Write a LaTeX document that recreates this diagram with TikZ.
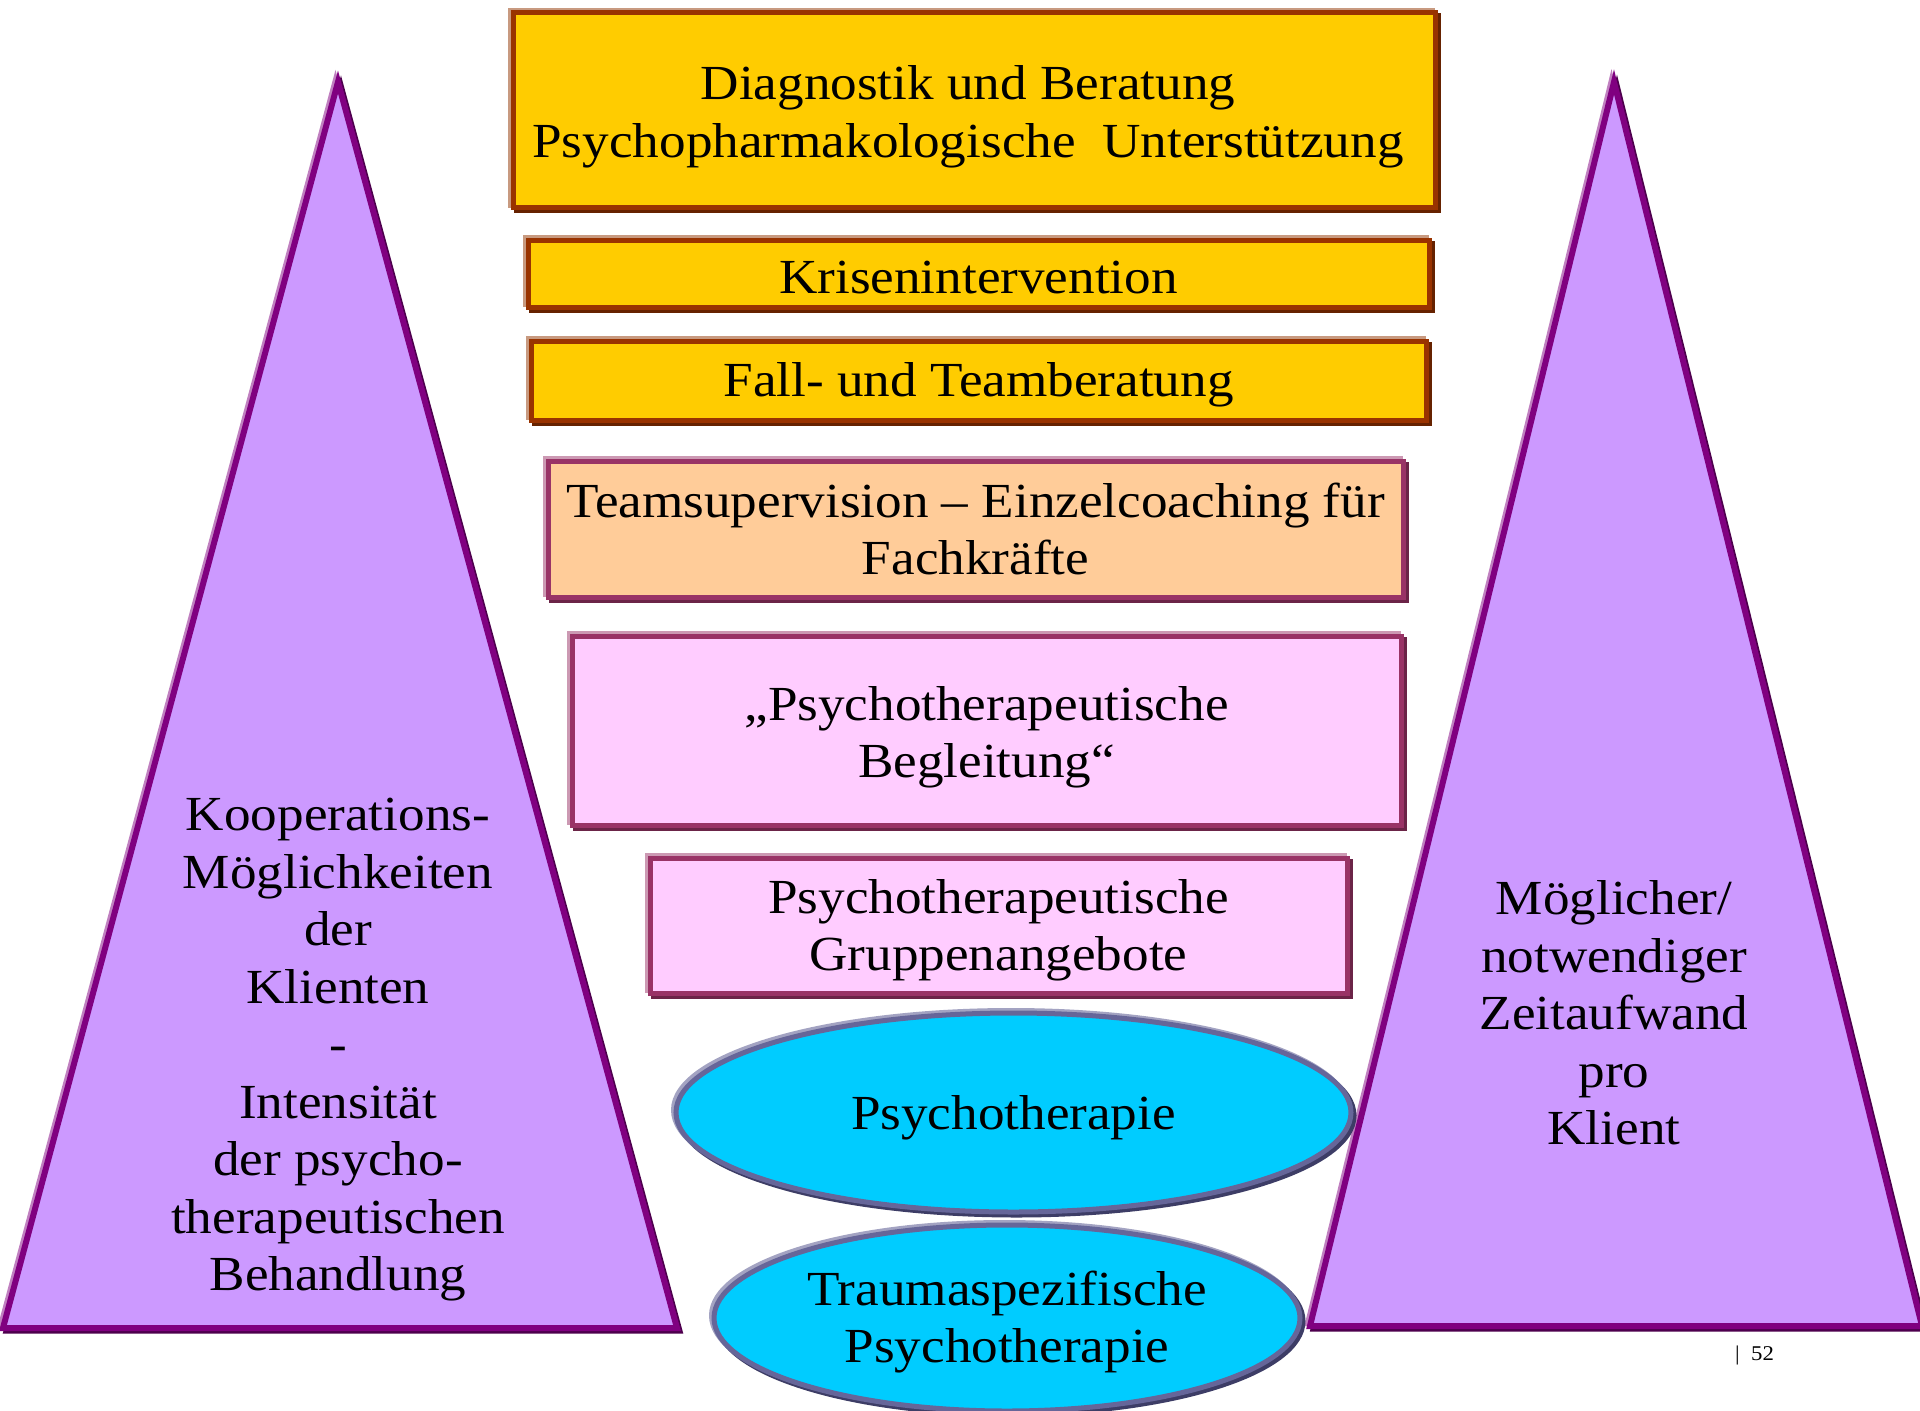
\documentclass[tikz,border=0pt]{standalone}
\usepackage{fontspec}
\setmainfont[FakeStretch=1.085]{Liberation Serif}
\usetikzlibrary{shadows,shapes.geometric}

\definecolor{goldfill}{HTML}{FFCC00}
\definecolor{goldline}{HTML}{993300}
\definecolor{golddark}{HTML}{662200}
\definecolor{goldlight}{HTML}{C89A80}
\definecolor{peachfill}{HTML}{FFCC99}
\definecolor{pinkfill}{HTML}{FFCCFF}
\definecolor{plumline}{HTML}{993366}
\definecolor{plumdark}{HTML}{6B2447}
\definecolor{plumlight}{HTML}{CC99B3}
\definecolor{cyanfill}{HTML}{00CCFF}
\definecolor{slateline}{HTML}{666699}
\definecolor{slatedark}{HTML}{3D3D66}
\definecolor{slatelight}{HTML}{A3A3C2}
\definecolor{lilacfill}{HTML}{CC99FF}
\definecolor{purpleline}{HTML}{800080}
\definecolor{purpledark}{HTML}{4D004D}
\definecolor{purplelight}{HTML}{C080C0}

\newcommand{\labelfont}{\fontsize{49}{57.5}\selectfont}

\begin{document}
\begin{tikzpicture}[x=1pt,y=-1pt,
  framed/.style n args={3}{
    general shadow={fill=#2, draw=#2, line width=5pt, shadow xshift=3pt, shadow yshift=-3pt},
    general shadow={fill=#3, draw=#3, line width=5pt, shadow xshift=-2.5pt, shadow yshift=2.5pt},
    draw=#1, line width=5pt},
  card/.style={rectangle, inner sep=0pt},
  goldcard/.style={card, fill=goldfill, framed={goldline}{golddark}{goldlight}},
  peachcard/.style={card, fill=peachfill, framed={plumline}{plumdark}{plumlight}},
  pinkcard/.style={card, fill=pinkfill, framed={plumline}{plumdark}{plumlight}},
  oval/.style={ellipse, inner sep=0pt, fill=cyanfill, framed={slateline}{slatedark}{slatelight}},
  pyramid/.style={fill=lilacfill, line join=miter, framed={purpleline}{purpledark}{purplelight}, line width=6pt},
  caption/.style={align=center, font=\labelfont, text=black, inner sep=0pt}
]
\useasboundingbox (0,0) rectangle (1920,1411);

% side pyramids
\draw[pyramid] (338,82) -- (3,1328) -- (677,1328) -- cycle;
\draw[pyramid] (1614,82) -- (1310,1326) -- (1922,1326) -- cycle;

\node[caption] (coop) at (338,1050) {Kooperations-\\Möglichkeiten\\der\\Klienten\\-\\Intensität\\der psycho-\\therapeutischen\\Behandlung};
\node[caption] (time) at (1614,1013) {Möglicher/\\notwendiger\\Zeitaufwand\\pro\\Klient};

% stacked offers: frames
\node[goldcard, minimum width=922pt, minimum height=195pt] (diag) at (974,110) {};
\node[goldcard, minimum width=901pt, minimum height=67pt] (krise) at (978.5,273.5) {};
\node[goldcard, minimum width=895pt, minimum height=79pt] (fall) at (978.5,380.5) {};
\node[peachcard, minimum width=855pt, minimum height=136pt] (super) at (975.5,529) {};
\node[pinkcard, minimum width=829pt, minimum height=189pt] (begl) at (986.5,730.5) {};
\node[pinkcard, minimum width=697pt, minimum height=135pt] (grp) at (998.5,925.5) {};
\node[oval, minimum width=675pt, minimum height=199pt] (pt) at (1013.5,1112.5) {};
\node[oval, minimum width=586pt, minimum height=186pt] (trauma) at (1007,1318) {};

% stacked offers: labels
\node[caption, xshift=-6pt, yshift=-7pt] (diagtext) at (diag.center)
  {Diagnostik und Beratung\\Psychopharmakologische\ \ Unterstützung};
\node[caption, yshift=-4pt] (krisetext) at (krise.center) {Krisenintervention};
\node[caption, yshift=-4pt] (falltext) at (fall.center) {Fall- und Teamberatung};
\node[caption] (supertext) at (super.center) {Teamsupervision – Einzelcoaching für\\Fachkräfte};
\node[caption, yshift=-7pt] (begltext) at (begl.center) {„Psychotherapeutische\\Begleitung“};
\node[caption, yshift=-5pt] (grptext) at (grp.center) {Psychotherapeutische\\Gruppenangebote};
\node[caption, yshift=-5pt] (pttext) at (pt.center) {Psychotherapie};
\node[caption, yshift=-6pt] (traumatext) at (1007,1316) {Traumaspezifische\\Psychotherapie};

% page number
\node[font=\fontsize{21}{24}\selectfont, inner sep=0pt, anchor=west] (page) at (1735,1355) {|\ \ 52};
\end{tikzpicture}
\end{document}
